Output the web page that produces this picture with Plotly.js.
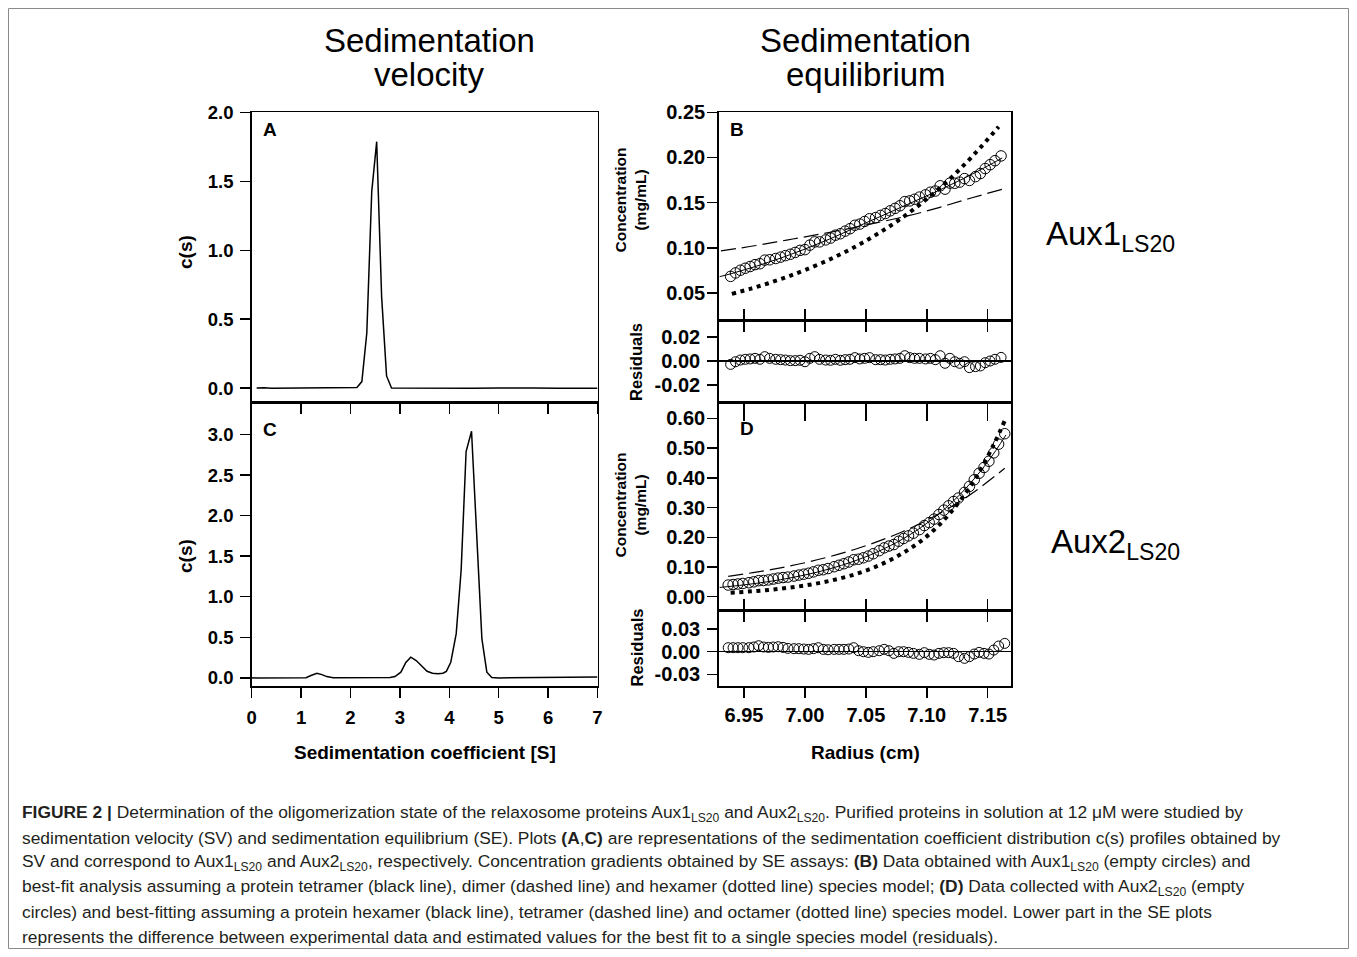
<!DOCTYPE html>
<html><head><meta charset="utf-8">
<script src="https://cdn.plot.ly/plotly-3.0.1.min.js"></script>
<style>html,body{margin:0;padding:0;background:#fff}#chart{width:1357px;height:957px}</style>
</head><body><div id="chart"></div>
<script>
// ---------- Panel A : c(s) of Aux1 (sedimentation velocity) ----------
const sA = [0.10, 0.25, 0.40, 0.60, 1.00, 1.50, 2.00, 2.13, 2.23, 2.33, 2.43, 2.53, 2.63, 2.73, 2.83, 3.50, 4.50, 5.00, 5.30, 5.70, 6.20, 7.00];
const cA = [0.002, 0.004, 0.000, 0.000, 0.000, 0.000, 0.000, 0.005, 0.048, 0.400, 1.425, 1.787, 0.664, 0.089, 0.002, 0.000, 0.000, 0.002, 0.004, 0.002, 0.000, 0.000];

// ---------- Panel C : c(s) of Aux2 ----------
const sC = [0.00, 1.10, 1.20, 1.32, 1.42, 1.52, 1.65, 2.80, 2.90, 3.02, 3.12, 3.22, 3.33, 3.44, 3.55, 3.66, 3.77, 3.87, 3.94, 4.03, 4.14, 4.24, 4.34, 4.45, 4.55, 4.66, 4.76, 4.86, 5.00, 6.00, 6.20, 6.50, 6.90, 7.00];
const cC = [0.000, 0.003, 0.030, 0.057, 0.040, 0.016, 0.002, 0.005, 0.016, 0.070, 0.190, 0.255, 0.214, 0.144, 0.082, 0.057, 0.050, 0.057, 0.080, 0.193, 0.545, 1.330, 2.790, 3.040, 1.780, 0.480, 0.070, 0.006, 0.000, 0.003, 0.008, 0.004, 0.004, 0.012];

// ---------- Panel B : SE data Aux1 ----------
const rB = [6.939, 6.943, 6.947, 6.951, 6.955, 6.959, 6.963, 6.967, 6.971, 6.976, 6.980, 6.984, 6.988, 6.992, 6.996, 7.000, 7.004, 7.008, 7.012, 7.017, 7.021, 7.025, 7.029, 7.033, 7.037, 7.041, 7.045, 7.049, 7.053, 7.058, 7.062, 7.066, 7.070, 7.074, 7.078, 7.082, 7.086, 7.090, 7.094, 7.099, 7.103, 7.107, 7.111, 7.115, 7.119, 7.123, 7.127, 7.131, 7.135, 7.140, 7.144, 7.148, 7.152, 7.156, 7.161];
const cB = [0.0683, 0.0721, 0.0751, 0.0773, 0.0792, 0.0813, 0.0823, 0.0863, 0.0867, 0.0881, 0.0896, 0.0913, 0.0928, 0.0948, 0.0971, 0.0979, 0.1029, 0.1065, 0.1065, 0.1087, 0.1107, 0.1139, 0.1155, 0.1184, 0.1211, 0.1249, 0.1262, 0.1291, 0.1321, 0.1334, 0.1358, 0.1379, 0.1409, 0.1436, 0.1465, 0.1511, 0.1519, 0.1537, 0.1561, 0.1586, 0.1615, 0.1628, 0.1686, 0.1649, 0.1716, 0.1714, 0.1727, 0.1766, 0.1745, 0.1788, 0.1822, 0.1877, 0.1920, 0.1964, 0.2017];
const resB = [-0.0028, -0.0006, 0.0008, 0.0014, 0.0017, 0.0022, 0.0014, 0.0036, 0.0022, 0.0014, 0.0011, 0.0008, 0.0003, 0.0003, 0.0006, -0.0006, 0.0022, 0.0036, 0.0014, 0.0008, 0.0006, 0.0014, 0.0006, 0.0011, 0.0014, 0.0028, 0.0017, 0.0022, 0.0028, 0.0011, 0.0011, 0.0008, 0.0014, 0.0017, 0.0022, 0.0044, 0.0028, 0.0022, 0.0022, 0.0017, 0.0022, 0.0011, 0.0044, -0.0019, 0.0022, -0.0006, -0.0019, -0.0006, -0.0055, -0.0047, -0.0041, -0.0014, 0.0000, 0.0014, 0.0030];
// fits B
const rB_tetramer = [6.930, 6.940, 6.950, 6.960, 6.970, 6.980, 6.990, 7.000, 7.010, 7.020, 7.030, 7.040, 7.050, 7.060, 7.070, 7.080, 7.090, 7.100, 7.110, 7.120, 7.130, 7.140, 7.150, 7.162];
const cB_tetramer = [0.0680, 0.0715, 0.0755, 0.0795, 0.0840, 0.0885, 0.0935, 0.0985, 0.1040, 0.1095, 0.1155, 0.1215, 0.1275, 0.1335, 0.1395, 0.1455, 0.1515, 0.1575, 0.1635, 0.1700, 0.1765, 0.1835, 0.1905, 0.1995];
const rB_dimer = [6.931, 6.960, 6.985, 7.010, 7.035, 7.060, 7.085, 7.110, 7.135, 7.162];
const cB_dimer = [0.0965, 0.1025, 0.1085, 0.1145, 0.1210, 0.1280, 0.1355, 0.1445, 0.1545, 0.1648];
const rB_hexamer = [6.940, 6.955, 6.970, 6.985, 7.000, 7.020, 7.040, 7.060, 7.080, 7.100, 7.120, 7.140, 7.159];
const cB_hexamer = [0.0490, 0.0545, 0.0607, 0.0676, 0.0753, 0.0869, 0.1002, 0.1157, 0.1334, 0.1540, 0.1776, 0.2050, 0.2340];

// ---------- Panel D : SE data Aux2 ----------
const rD = [6.937, 6.941, 6.945, 6.949, 6.954, 6.958, 6.962, 6.966, 6.970, 6.974, 6.978, 6.982, 6.986, 6.991, 6.995, 6.999, 7.003, 7.007, 7.011, 7.015, 7.019, 7.024, 7.028, 7.032, 7.036, 7.040, 7.044, 7.048, 7.052, 7.056, 7.061, 7.065, 7.069, 7.073, 7.077, 7.081, 7.085, 7.089, 7.094, 7.098, 7.102, 7.106, 7.110, 7.114, 7.118, 7.122, 7.126, 7.131, 7.135, 7.139, 7.143, 7.147, 7.151, 7.155, 7.159, 7.164];
const cD = [0.0393, 0.0410, 0.0428, 0.0446, 0.0471, 0.0501, 0.0540, 0.0546, 0.0565, 0.0595, 0.0626, 0.0645, 0.0661, 0.0696, 0.0728, 0.0758, 0.0790, 0.0836, 0.0889, 0.0909, 0.0948, 0.1010, 0.1059, 0.1110, 0.1168, 0.1243, 0.1262, 0.1311, 0.1368, 0.1445, 0.1549, 0.1643, 0.1706, 0.1755, 0.1866, 0.1959, 0.2047, 0.2137, 0.2259, 0.2395, 0.2493, 0.2610, 0.2765, 0.2913, 0.3059, 0.3203, 0.3319, 0.3510, 0.3711, 0.3934, 0.4154, 0.4348, 0.4557, 0.4839, 0.5131, 0.5483];
const resD = [0.0053, 0.0053, 0.0053, 0.0053, 0.0053, 0.0062, 0.0079, 0.0062, 0.0057, 0.0062, 0.0066, 0.0057, 0.0044, 0.0040, 0.0040, 0.0035, 0.0031, 0.0040, 0.0053, 0.0031, 0.0026, 0.0031, 0.0031, 0.0031, 0.0035, 0.0053, 0.0013, 0.0000, -0.0009, 0.0000, 0.0013, 0.0031, 0.0013, -0.0022, 0.0000, 0.0000, -0.0009, -0.0022, -0.0035, -0.0013, -0.0035, -0.0044, -0.0022, -0.0013, -0.0013, -0.0022, -0.0066, -0.0088, -0.0066, -0.0031, -0.0009, -0.0022, -0.0031, 0.0022, 0.0075, 0.0110];
// fits D
const rD_hexamer = [6.930, 6.950, 6.970, 6.990, 7.010, 7.030, 7.050, 7.070, 7.090, 7.110, 7.130, 7.150, 7.165];
const cD_hexamer = [0.0312, 0.0398, 0.0508, 0.0648, 0.0826, 0.1054, 0.1344, 0.1714, 0.2186, 0.2788, 0.3555, 0.4534, 0.5440];
const rD_tetramer = [6.937, 6.960, 6.980, 7.000, 7.020, 7.040, 7.060, 7.080, 7.100, 7.120, 7.140, 7.164];
const cD_tetramer = [0.0687, 0.0828, 0.0973, 0.1144, 0.1346, 0.1582, 0.1861, 0.2188, 0.2572, 0.3025, 0.3557, 0.4320];
const rD_octamer = [6.939, 6.960, 6.980, 7.000, 7.020, 7.040, 7.060, 7.080, 7.100, 7.120, 7.140, 7.155, 7.164];
const cD_octamer = [0.0135, 0.0193, 0.0270, 0.0378, 0.0530, 0.0740, 0.1040, 0.1460, 0.2030, 0.2850, 0.3980, 0.5120, 0.5920];

// ---------- ticks ----------
const sTicks = [0, 1, 2, 3, 4, 5, 6, 7];
const cA_ticks = [0.0, 0.5, 1.0, 1.5, 2.0];
const cC_ticks = [0.0, 0.5, 1.0, 1.5, 2.0, 2.5, 3.0];
const rTicks = [6.95, 7.00, 7.05, 7.10, 7.15];
const concB_ticks = [0.05, 0.10, 0.15, 0.20, 0.25];
const concD_ticks = [0.0, 0.1, 0.2, 0.3, 0.4, 0.5, 0.6];
const resB_ticks = [-0.02, 0.0, 0.02];
const resB_text = ['-0.02', '0.00', '0.02'];
const resD_ticks = [-0.03, 0.0, 0.03];
const resD_text = ['-0.03', '0.00', '0.03'];

// ---------- caption lines ----------
const captionLines = [
  '<b>FIGURE 2 |</b> Determination of the oligomerization state of the relaxosome proteins Aux1<sub>LS20</sub> and Aux2<sub>LS20</sub>. Purified proteins in solution at 12 μM were studied by',
  'sedimentation velocity (SV) and sedimentation equilibrium (SE). Plots <b>(A</b>,<b>C)</b> are representations of the sedimentation coefficient distribution c(s) profiles obtained by',
  'SV and correspond to Aux1<sub>LS20</sub> and Aux2<sub>LS20</sub>, respectively. Concentration gradients obtained by SE assays: <b>(B)</b> Data obtained with Aux1<sub>LS20</sub> (empty circles) and',
  'best-fit analysis assuming a protein tetramer (black line), dimer (dashed line) and hexamer (dotted line) species model; <b>(D)</b> Data collected with Aux2<sub>LS20</sub> (empty',
  'circles) and best-fitting assuming a protein hexamer (black line), tetramer (dashed line) and octamer (dotted line) species model. Lower part in the SE plots',
  'represents the difference between experimental data and estimated values for the best fit to a single species model (residuals).'
];

// ---------- geometry ----------
const W = 1357, H = 957;
const px = v => v / W, py = v => 1 - v / H;
const FONT = 'Liberation Sans, Arial, Helvetica, sans-serif';
const tickFontL = {family: FONT, size: 18.5, color: '#000', weight: 'bold'};
const tickFontR = {family: FONT, size: 20, color: '#000', weight: 'bold'};
const LEFT = [px(251.7), px(597.5)];
const RIGHT = [px(718.7), px(1011.3)];
const rRange = [6.9292, 7.1694];

function ax(o) {
  return Object.assign({
    showline: true, linecolor: '#000', linewidth: 1.5, mirror: true,
    showgrid: false, zeroline: false, ticks: 'outside', ticklen: 10,
    tickwidth: 1.5, tickcolor: '#000', tickfont: tickFontL, fixedrange: true
  }, o);
}

const blk = '#000';
const dotted = {color: blk, width: 4, dash: '4px,4.6px', shape: 'spline'};
const dashed = {color: blk, width: 1.2, dash: '15px,6px', shape: 'spline'};
const traces = [
  {x: sA, y: cA, xaxis: 'x', yaxis: 'y', mode: 'lines', line: {color: blk, width: 1.5}},
  {x: sC, y: cC, xaxis: 'x2', yaxis: 'y2', mode: 'lines', line: {color: blk, width: 1.5}},
  // B
  {x: rB_dimer, y: cB_dimer, xaxis: 'x3', yaxis: 'y3', mode: 'lines', line: dashed},
  {x: rB_hexamer, y: cB_hexamer, xaxis: 'x3', yaxis: 'y3', mode: 'lines', line: dotted},
  {x: rB_tetramer, y: cB_tetramer, xaxis: 'x3', yaxis: 'y3', mode: 'lines', line: {color: blk, width: 1, shape: 'spline'}},
  {x: rB, y: cB, xaxis: 'x3', yaxis: 'y3', mode: 'markers', marker: {symbol: 'circle-open', size: 10.5, color: blk, line: {width: 1, color: blk}}},
  {x: rB, y: resB, xaxis: 'x4', yaxis: 'y4', mode: 'markers', marker: {symbol: 'circle-open', size: 10, color: blk, line: {width: 1, color: blk}}},
  // D
  {x: rD_tetramer, y: cD_tetramer, xaxis: 'x5', yaxis: 'y5', mode: 'lines', line: dashed},
  {x: rD_octamer, y: cD_octamer, xaxis: 'x5', yaxis: 'y5', mode: 'lines', line: dotted},
  {x: rD_hexamer, y: cD_hexamer, xaxis: 'x5', yaxis: 'y5', mode: 'lines', line: {color: blk, width: 1, shape: 'spline'}},
  {x: rD, y: cD, xaxis: 'x5', yaxis: 'y5', mode: 'markers', marker: {symbol: 'circle-open', size: 10.5, color: blk, line: {width: 1, color: blk}}},
  {x: rD, y: resD, xaxis: 'x6', yaxis: 'y6', mode: 'markers', marker: {symbol: 'circle-open', size: 10, color: blk, line: {width: 1, color: blk}}},
  // carrier for the extra tick axis on top of panel D
  {x: [null], y: [null], xaxis: 'x7', yaxis: 'y5', mode: 'markers', hoverinfo: 'skip'}
];

const bold = (t, size, x, y, extra) => Object.assign({
  text: t, x: x, y: y, xref: 'paper', yref: 'paper', showarrow: false,
  xanchor: 'center', yanchor: 'middle',
  font: {family: FONT, size: size, color: '#000', weight: 'bold'}
}, extra || {});
const plain = (t, size, x, y, extra) => Object.assign({
  text: t, x: x, y: y, xref: 'paper', yref: 'paper', showarrow: false,
  xanchor: 'center', yanchor: 'middle', borderpad: 0,
  font: {family: FONT, size: size, color: '#000'}
}, extra || {});

const captionY = [813, 838, 862.5, 887, 912, 936.5];
const captionAnn = captionLines.map((t, i) => ({
  text: t, x: px(21), y: py(captionY[i]), xref: 'paper', yref: 'paper', showarrow: false,
  xanchor: 'left', yanchor: 'middle', align: 'left', borderpad: 0,
  font: {family: FONT, size: 17.4, color: '#231f20'}
}));

const annotations = [
  plain('Sedimentation', 33, px(429), py(40.5)),
  plain('velocity', 33, px(429), py(74.5)),
  plain('Sedimentation', 33, px(865.5), py(40.5)),
  plain('equilibrium', 33, px(865.5), py(74.5)),
  plain('Aux1<sub>LS20</sub>', 33, px(1045), py(236), {xanchor: 'left'}),
  plain('Aux2<sub>LS20</sub>', 33, px(1050), py(544), {xanchor: 'left'}),
  bold('A', 19, px(270), py(129)),
  bold('B', 19, px(737), py(129)),
  bold('C', 19, px(270), py(429)),
  bold('D', 19, px(747), py(428)),
  bold('c(s)', 19, px(185), py(252), {textangle: -90}),
  bold('c(s)', 19, px(185), py(556), {textangle: -90}),
  bold('Sedimentation coefficient [S]', 19, px(425), py(752)),
  bold('Radius (cm)', 19, px(865), py(752)),
  bold('Concentration<br>(mg/mL)', 15.5, px(629.5), py(200), {textangle: -90}),
  bold('Concentration<br>(mg/mL)', 15.5, px(629.5), py(505), {textangle: -90}),
  bold('Residuals', 16.5, px(636), py(362), {textangle: -90}),
  bold('Residuals', 16.5, px(636), py(647.5), {textangle: -90})
].concat(captionAnn);

const layout = {
  width: W, height: H, margin: {l: 0, r: 0, t: 0, b: 0},
  paper_bgcolor: '#fff', plot_bgcolor: 'rgba(0,0,0,0)', showlegend: false,
  font: {family: FONT, color: '#000'},
  xaxis: ax({domain: LEFT, range: [0, 7], anchor: 'y', tickvals: sTicks, showticklabels: false}),
  yaxis: ax({domain: [py(402), py(112.3)], range: [-0.1, 2.0], anchor: 'x', tickvals: cA_ticks, tickformat: '.1f', ticklabelstandoff: 3}),
  xaxis2: ax({domain: LEFT, range: [0, 7], anchor: 'y2', tickvals: sTicks, tickformat: 'd', ticklabelstandoff: 4}),
  yaxis2: ax({domain: [py(686), py(402)], range: [-0.1, 3.4], anchor: 'x2', tickvals: cC_ticks, tickformat: '.1f', ticklabelstandoff: 3}),
  xaxis3: ax({domain: RIGHT, range: rRange, anchor: 'y3', tickvals: rTicks, showticklabels: false}),
  yaxis3: ax({domain: [py(320), py(112.3)], range: [0.02, 0.25], anchor: 'x3', tickvals: concB_ticks, tickformat: '.2f',
              tickfont: tickFontR, ticklabelstandoff: -2}),
  xaxis4: ax({domain: RIGHT, range: rRange, anchor: 'y4', tickvals: rTicks, showticklabels: false, mirror: 'ticks'}),
  yaxis4: ax({domain: [py(402), py(320)], range: [-0.034, 0.034], anchor: 'x4', tickvals: resB_ticks, ticktext: resB_text,
              tickfont: tickFontR, ticklabelstandoff: 3, zeroline: true, zerolinecolor: '#000', zerolinewidth: 1.3}),
  xaxis5: ax({domain: RIGHT, range: rRange, anchor: 'y5', tickvals: rTicks, showticklabels: false}),
  yaxis5: ax({domain: [py(610.7), py(402)], range: [-0.047, 0.655], anchor: 'x5', tickvals: concD_ticks, tickformat: '.2f',
              tickfont: tickFontR, ticklabelstandoff: -2}),
  xaxis6: ax({domain: RIGHT, range: rRange, anchor: 'y6', tickvals: rTicks, tickformat: '.2f', mirror: 'ticks', tickfont: tickFontR}),
  yaxis6: ax({domain: [py(686.2), py(610.7)], range: [-0.0457, 0.0543], anchor: 'x6', tickvals: resD_ticks, ticktext: resD_text,
              tickfont: tickFontR, ticklabelstandoff: 3, zeroline: true, zerolinecolor: '#000', zerolinewidth: 1.3}),
  xaxis7: ax({overlaying: 'x5', anchor: 'y5', side: 'top', range: rRange, tickvals: rTicks, showticklabels: false,
              showline: false, mirror: false, ticks: 'inside', ticklen: 19}),
  annotations: annotations,
  shapes: [{type: 'rect', xref: 'paper', yref: 'paper', x0: px(8.5), x1: px(1348.5), y0: py(948.5), y1: py(8.5),
            line: {color: '#8a8a8a', width: 1}}]
};

Plotly.newPlot('chart', traces, layout, {staticPlot: true, displayModeBar: false});
</script>
</body></html>
